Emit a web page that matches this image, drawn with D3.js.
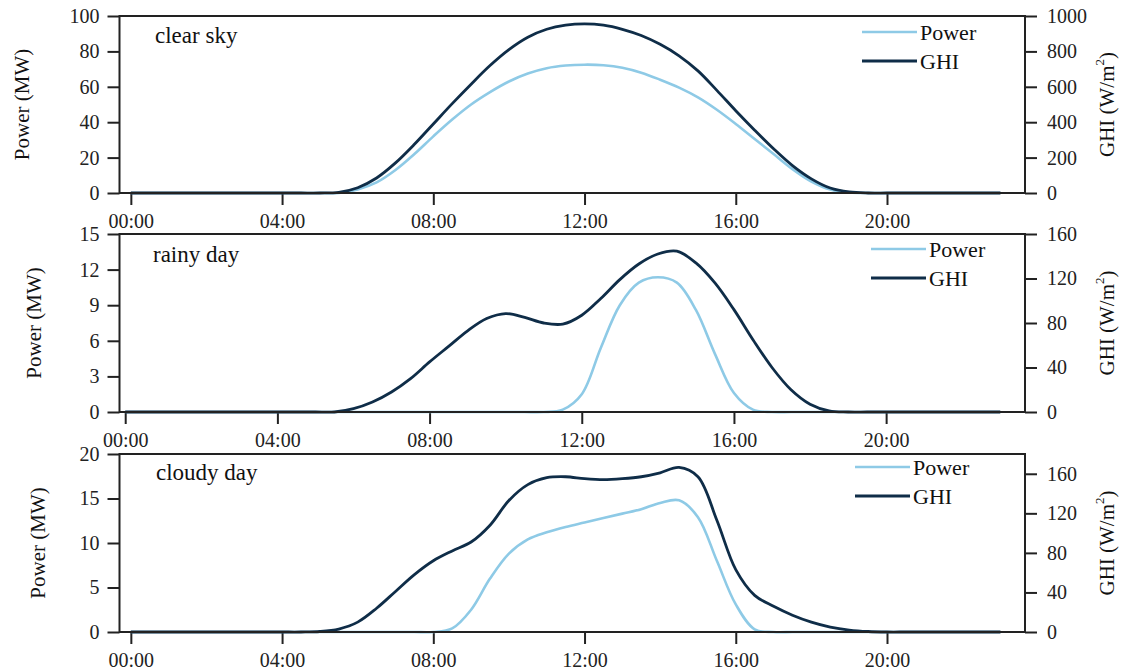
<!DOCTYPE html>
<html>
<head>
<meta charset="utf-8">
<script src="https://cdn.jsdelivr.net/npm/d3@7/dist/d3.min.js"></script>
<style>
    body { margin: 0; background: #fff; }
    svg { display: block; font-family: "Liberation Serif", "Times New Roman", serif; }
    svg text { font-family: "Liberation Serif", "Times New Roman", serif; }
</style>
</head>
<body>
<svg id="canvas" width="1122" height="672"></svg>
<script>
// Half-hourly samples, 00:00 .. 23:00.
const hours = [
    0, 0.5, 1, 1.5, 2, 2.5, 3, 3.5, 4, 4.5,
    5, 5.5, 6, 6.5, 7, 7.5, 8, 8.5, 9, 9.5,
    10, 10.5, 11, 11.5, 12, 12.5, 13, 13.5, 14, 14.5,
    15, 15.5, 16, 16.5, 17, 17.5, 18, 18.5, 19, 19.5,
    20, 20.5, 21, 21.5, 22, 22.5, 23
];

// Power (MW) and GHI (W/m2) for each day type.
const clearPower = [
    0, 0, 0, 0, 0, 0, 0, 0, 0, 0,
    0, 0, 2, 6, 13, 22, 32, 41.5, 50, 57,
    63, 67.5, 70.5, 72, 72.5, 72.2, 70.8, 68, 64, 59.5,
    54, 47, 39, 30.5, 22, 13.5, 6.5, 2, 0.3, 0,
    0, 0, 0, 0, 0, 0, 0
];
const clearGhi = [
    0, 0, 0, 0, 0, 0, 0, 0, 0, 0,
    0, 4, 30, 85, 170, 275, 390, 505, 615, 720,
    810, 880, 925, 948, 955, 948, 925, 890, 840, 775,
    690, 580, 465, 355, 250, 155, 80, 28, 6, 0,
    0, 0, 0, 0, 0, 0, 0
];
const rainyPower = [
    0, 0, 0, 0, 0, 0, 0, 0, 0, 0,
    0, 0, 0, 0, 0, 0, 0, 0, 0, 0,
    0, 0, 0, 0.2, 1.5, 5.4, 9.0, 10.9, 11.35, 10.9,
    8.6, 4.9, 1.6, 0.2, 0, 0, 0, 0, 0, 0,
    0, 0, 0, 0, 0, 0, 0
];
const rainyGhi = [
    0, 0, 0, 0, 0, 0, 0, 0, 0, 0,
    0, 0, 3, 9, 18, 30, 45, 59, 73, 84,
    88.5, 85, 80, 79, 87, 102, 119, 133, 142, 144.5,
    134, 116, 92, 65, 40, 20, 7, 1, 0, 0,
    0, 0, 0, 0, 0, 0, 0
];
const cloudyPower = [
    0, 0, 0, 0, 0, 0, 0, 0, 0, 0,
    0, 0, 0, 0, 0, 0, 0, 0.4, 2.5, 6.0,
    8.8, 10.4, 11.2, 11.8, 12.3, 12.8, 13.3, 13.8, 14.5, 14.8,
    12.9, 8.0, 3.1, 0.3, 0, 0, 0, 0, 0, 0,
    0, 0, 0, 0, 0, 0, 0
];
const cloudyGhi = [
    0, 0, 0, 0, 0, 0, 0, 0, 0, 0,
    0.5, 3, 10, 24, 41, 58, 72, 82, 91, 108,
    133, 149, 156, 157, 155, 154, 155, 157, 161, 166.5,
    157, 113, 63, 37, 26, 17, 10, 5, 2, 0.5,
    0, 0, 0, 0, 0, 0, 0
];

const panelTitles = ["clear sky", "rainy day", "cloudy day"];
const powerMaxes = [100, 15, 20];
const ghiMaxes = [1000, 160, 180];
const powerTickValues = [
    [0, 20, 40, 60, 80, 100],
    [0, 3, 6, 9, 12, 15],
    [0, 5, 10, 15, 20]
];
const ghiTickValues = [
    [0, 200, 400, 600, 800, 1000],
    [0, 40, 80, 120, 160],
    [0, 40, 80, 120, 160]
];
const xTickHours = [0, 4, 8, 12, 16, 20];
const seriesNames = ["Power", "GHI"];

(() => {
    const POWER_COLOR = "#8ecae6";
    const GHI_COLOR = "#0f2d48";
    const AXIS_COLOR = "#222";
    const LEFT = 119.5;
    const RIGHT = 1025;
    const TICK_SIZE = 12;
    const TICK_FONT = 20;

    const LAYOUT = [
        { top: 16, bottom: 193, xStart: -0.3, labelX: 22, titleX: 155, titleDy: 27, legendX: 862, legendDy: 16 },
        { top: 234, bottom: 412, xStart: -0.15, labelX: 34, titleX: 153, titleDy: 28, legendX: 871, legendDy: 15 },
        { top: 454, bottom: 632, xStart: -0.3, labelX: 38, titleX: 156, titleDy: 26, legendX: 855, legendDy: 13 }
    ];

    const powerSeries = [clearPower, rainyPower, cloudyPower];
    const ghiSeries = [clearGhi, rainyGhi, cloudyGhi];

    let canvas = d3.select("#canvas");

    function formatHour(h) {
        return String(h).padStart(2, "0") + ":00";
    }

    function styleAxis(g) {
        // Let the ticks inherit the serif font from the svg.
        g.attr("font-family", null).attr("font-size", null);
        g.select(".domain").remove();
        g.selectAll(".tick line")
            .attr("stroke", AXIS_COLOR)
            .attr("stroke-width", 2);
        g.selectAll(".tick text")
            .attr("fill", AXIS_COLOR)
            .attr("font-size", TICK_FONT);
    }

    function drawPanel(i) {
        let lay = LAYOUT[i];
        let g = canvas.append("g").attr("class", "panel");

        let x = d3.scaleLinear()
            .domain([lay.xStart, 23.65])
            .range([LEFT, RIGHT]);
        let yPower = d3.scaleLinear()
            .domain([0, powerMaxes[i]])
            .range([lay.bottom, lay.top]);
        let yGhi = d3.scaleLinear()
            .domain([0, ghiMaxes[i]])
            .range([lay.bottom, lay.top]);

        // Axes.
        g.append("g")
            .attr("transform", `translate(${LEFT},0)`)
            .call(d3.axisLeft(yPower).tickValues(powerTickValues[i]).tickSize(TICK_SIZE).tickPadding(8))
            .call(styleAxis);
        g.append("g")
            .attr("transform", `translate(${RIGHT},0)`)
            .call(d3.axisRight(yGhi).tickValues(ghiTickValues[i]).tickFormat(d3.format("d"))
                .tickSize(TICK_SIZE).tickPadding(10))
            .call(styleAxis);
        g.append("g")
            .attr("transform", `translate(0,${lay.bottom})`)
            .call(d3.axisBottom(x).tickValues(xTickHours).tickFormat(formatHour).tickSize(TICK_SIZE).tickPadding(9))
            .call(styleAxis);

        // Lines.
        let powerLine = d3.line()
            .x((d, k) => x(hours[k]))
            .y(d => yPower(d))
            .curve(d3.curveCatmullRom.alpha(0.5));
        let ghiLine = d3.line()
            .x((d, k) => x(hours[k]))
            .y(d => yGhi(d))
            .curve(d3.curveCatmullRom.alpha(0.5));

        g.append("path")
            .datum(powerSeries[i])
            .attr("fill", "none")
            .attr("stroke", POWER_COLOR)
            .attr("stroke-width", 2.6)
            .attr("d", powerLine);
        g.append("path")
            .datum(ghiSeries[i])
            .attr("fill", "none")
            .attr("stroke", GHI_COLOR)
            .attr("stroke-width", 2.8)
            .attr("d", ghiLine);

        // Frame.
        g.append("rect")
            .attr("x", LEFT)
            .attr("y", lay.top)
            .attr("width", RIGHT - LEFT)
            .attr("height", lay.bottom - lay.top)
            .attr("fill", "none")
            .attr("stroke", AXIS_COLOR)
            .attr("stroke-width", 2);

        // Title inside the panel.
        g.append("text")
            .attr("x", lay.titleX)
            .attr("y", lay.top + lay.titleDy)
            .attr("font-size", 23)
            .attr("fill", "#111")
            .text(panelTitles[i]);

        // Legend.
        let colors = [POWER_COLOR, GHI_COLOR];
        seriesNames.forEach((name, k) => {
            let ly = lay.top + lay.legendDy + k * 29;
            g.append("line")
                .attr("x1", lay.legendX)
                .attr("x2", lay.legendX + 55)
                .attr("y1", ly)
                .attr("y2", ly)
                .attr("stroke", colors[k])
                .attr("stroke-width", k === 0 ? 2.6 : 2.8);
            g.append("text")
                .attr("x", lay.legendX + 58)
                .attr("y", ly + 8)
                .attr("font-size", 22)
                .attr("fill", "#111")
                .text(name);
        });

        // Axis titles.
        let cy = (lay.top + lay.bottom) / 2;
        g.append("text")
            .attr("transform", `translate(${lay.labelX},${cy}) rotate(-90)`)
            .attr("text-anchor", "middle")
            .attr("dominant-baseline", "central")
            .attr("font-size", 21)
            .attr("fill", "#111")
            .text("Power (MW)");

        let ghiLabel = g.append("text")
            .attr("transform", `translate(1107,${cy}) rotate(-90)`)
            .attr("text-anchor", "middle")
            .attr("dominant-baseline", "central")
            .attr("font-size", 21)
            .attr("fill", "#111");
        ghiLabel.append("tspan").text("GHI (W/m");
        ghiLabel.append("tspan")
            .attr("font-size", 13)
            .attr("dy", -8)
            .text("2");
        ghiLabel.append("tspan")
            .attr("dy", 8)
            .text(")");
    }

    for (let i = 0; i < LAYOUT.length; i++) {
        drawPanel(i);
    }
})();
</script>
</body>
</html>
